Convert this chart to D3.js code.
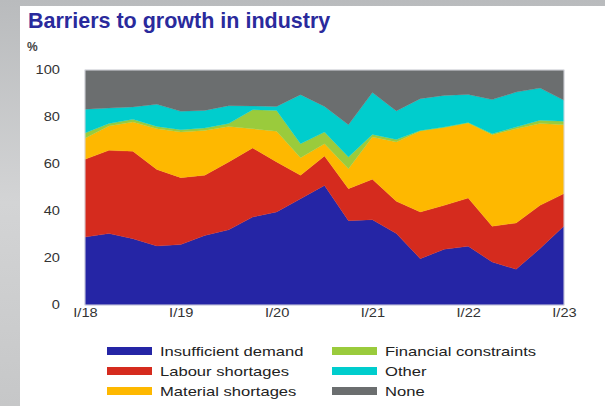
<!DOCTYPE html>
<html>
<head>
<meta charset="utf-8">
<script src="https://cdn.jsdelivr.net/npm/d3@7"></script>
<style>
  body { margin: 0; padding: 0; background: #c9cacb; }
  svg { display: block; }
</style>
</head>
<body>
<div id="chart"></div>
<script>
// quarters I/18 .. I/23
var quarters = d3.range(21);
var tickLabels = ["I/18", "I/19", "I/20", "I/21", "I/22", "I/23"];

var insufficientDemand = [28.9, 30.4, 28.2, 25.1, 25.7, 29.6, 32.0, 37.4, 39.6, 45.2, 50.9, 35.9, 36.3, 30.4, 19.7, 23.7, 25.0, 18.3, 15.2, 24.0, 33.6];
var labourShortages    = [33.1, 35.4, 37.2, 32.6, 28.5, 25.6, 28.9, 29.4, 21.3, 10.0, 12.5, 13.6, 17.2, 13.7, 19.9, 18.7, 20.5, 15.2, 19.7, 18.4, 13.8];
var materialShortages  = [9.0, 10.4, 12.5, 17.3, 19.4, 19.1, 15.1, 8.2, 13.0, 7.5, 5.2, 8.5, 18.0, 25.3, 34.4, 33.1, 31.9, 39.0, 40.1, 34.8, 29.3];
var financialConstr    = [2.2, 1.0, 1.1, 1.0, 1.0, 1.0, 1.2, 8.1, 8.9, 5.9, 5.0, 5.0, 1.1, 1.0, 0.3, 0.2, 0.3, 0.4, 0.7, 1.4, 1.5];
var other              = [10.1, 6.6, 5.3, 9.4, 7.8, 7.5, 7.6, 1.6, 1.7, 20.9, 10.9, 13.7, 17.8, 12.2, 13.5, 13.5, 11.9, 14.5, 14.9, 13.7, 8.9];
var none               = [16.7, 16.2, 15.7, 14.6, 17.6, 17.2, 15.2, 15.3, 15.5, 10.5, 15.5, 23.3, 9.6, 17.4, 12.2, 10.8, 10.4, 12.6, 9.4, 7.7, 12.9];

var seriesNames = ["Insufficient demand", "Labour shortages", "Material shortages", "Financial constraints", "Other", "None"];
var seriesValues = [insufficientDemand, labourShortages, materialShortages, financialConstr, other, none];
var colors = ["#2525a5", "#d52b1e", "#feb800", "#9acb3c", "#00cdcd", "#6b6e6f"];

// build rows for d3.stack
var data = quarters.map(function(q, i) {
    var row = { q: q };
    seriesNames.forEach(function(name, j) { row[name] = seriesValues[j][i]; });
    return row;
});

var W = 605, H = 406;
var margin = { top: 70, bottom: 101, left: 85, right: 41 };
var width = W - margin.left - margin.right;
var height = H - margin.top - margin.bottom;

var svg = d3.select("#chart").append("svg")
    .attr("width", W)
    .attr("height", H);

// grey backdrop strip on left/top, white panel
var grad = svg.append("defs").append("linearGradient")
    .attr("id", "bg").attr("x1", 0).attr("y1", 0).attr("x2", 0).attr("y2", 1);
grad.append("stop").attr("offset", "0%").attr("stop-color", "#b9bbbd");
grad.append("stop").attr("offset", "50%").attr("stop-color", "#d3d4d5");
grad.append("stop").attr("offset", "100%").attr("stop-color", "#c6c7c8");
svg.append("rect").attr("width", W).attr("height", H).attr("fill", "url(#bg)");
svg.append("rect").attr("x", 20).attr("y", 6).attr("width", W - 20).attr("height", H - 6).attr("fill", "#ffffff");

// title
svg.append("text")
    .attr("x", 28).attr("y", 28)
    .attr("font-family", "Liberation Sans, Arial, sans-serif")
    .attr("font-weight", "bold")
    .attr("font-size", 21.5)
    .attr("fill", "#2a2a9c")
    .text("Barriers to growth in industry");

svg.append("text")
    .attr("x", 27).attr("y", 51)
    .attr("font-family", "Liberation Sans, Arial, sans-serif")
    .attr("font-weight", "bold")
    .attr("font-size", 12)
    .attr("fill", "#444")
    .text("%");

var g = svg.append("g")
    .attr("transform", "translate(" + margin.left + "," + margin.top + ")");

var xScale = d3.scaleLinear().domain([0, 20]).range([0, width]);
var yScale = d3.scaleLinear().domain([0, 100]).range([height, 0]);

var stack = d3.stack().keys(seriesNames);
var layers = stack(data);

var area = d3.area()
    .x(function(d) { return xScale(d.data.q); })
    .y0(function(d) { return yScale(d[0]); })
    .y1(function(d) { return yScale(d[1]); });

g.selectAll(".layer")
    .data(layers)
    .enter().append("path")
    .attr("class", "layer")
    .attr("d", area)
    .attr("fill", function(d, i) { return colors[i]; })
    .attr("stroke", function(d, i) { return colors[i]; })
    .attr("stroke-width", 0.3);

// frame
g.append("rect")
    .attr("width", width).attr("height", height)
    .attr("fill", "none")
    .attr("stroke", "#d8d8e0")
    .attr("stroke-width", 1);

var stretch = 1.22;

// Y axis
var yAxis = g.append("g")
    .call(d3.axisLeft(yScale).tickValues([0, 20, 40, 60, 80, 100]).tickSize(0).tickPadding(25));
yAxis.select(".domain").remove();
yAxis.selectAll("text")
    .attr("font-family", "Liberation Sans, Arial, sans-serif")
    .attr("font-size", 12)
    .attr("fill", "#333")
    .attr("x", -25 / stretch)
    .attr("transform", "scale(" + stretch + ",1)");

// X axis
var xAxis = g.append("g")
    .attr("transform", "translate(0," + height + ")")
    .call(d3.axisBottom(xScale).tickValues([0, 4, 8, 12, 16, 20])
        .tickFormat(function(d, i) { return tickLabels[i]; })
        .tickSize(0).tickPadding(3));
xAxis.select(".domain").remove();
xAxis.selectAll("text")
    .attr("font-family", "Liberation Sans, Arial, sans-serif")
    .attr("font-size", 12)
    .attr("fill", "#333")
    .attr("transform", "scale(" + stretch + ",1)");

// Legend
var legend = svg.append("g")
    .attr("font-family", "Liberation Sans, Arial, sans-serif")
    .attr("font-size", 13.6)
    .selectAll("g")
    .data(seriesNames)
    .enter().append("g")
    .attr("transform", function(d, i) {
        var col = Math.floor(i / 3), row = i % 3;
        return "translate(" + (107 + col * 225) + "," + (351 + row * 20) + ")";
    });

legend.append("rect")
    .attr("x", 0).attr("y", -4)
    .attr("width", 45).attr("height", 8)
    .attr("fill", function(d, i) { return colors[i]; });

legend.append("text")
    .attr("x", 53 / stretch)
    .attr("y", 5)
    .attr("fill", "#222")
    .attr("transform", "scale(" + stretch + ",1)")
    .text(function(d) { return d; });
</script>
</body>
</html>
